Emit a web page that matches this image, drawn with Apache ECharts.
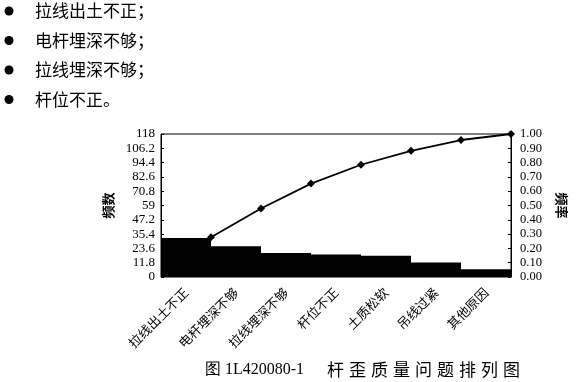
<!DOCTYPE html>
<html><head><meta charset="utf-8">
<script src="https://cdn.jsdelivr.net/npm/echarts@6/dist/echarts.min.js"></script>
<style>
html,body{margin:0;padding:0;background:#fff;}
#c{width:576px;height:382px;}
</style></head>
<body><div id="c"></div>
<script>
const bulletLines = ['拉线出土不正；', '电杆埋深不够；', '拉线埋深不够；', '杆位不正。'];
const categories = ['拉线出土不正', '电杆埋深不够', '拉线埋深不够', '杆位不正', '土质松软', '吊线过紧', '其他原因'];
const frequency = [32.2, 25.4, 19.9, 18.6, 17.5, 11.9, 6.3];
const cumulative = [0.278, 0.479, 0.653, 0.785, 0.882, 0.958, 1.00];
const captionNumber = '图 1L420080-1';
const captionTitle = '杆歪质量问题排列图';

const chart = echarts.init(document.getElementById('c'));
const serif = '"Liberation Serif", "DejaVu Serif", serif';
const cjk = '"Noto Sans CJK SC", sans-serif';

const graphics = [];
bulletLines.forEach((t, i) => {
  const y = 11 + i * 29.5;
  graphics.push({type: 'circle', shape: {cx: 9, cy: y, r: 4.5}, style: {fill: '#000'}});
  graphics.push({type: 'text', x: 35, y: y, style: {text: t, font: '17px ' + cjk, fill: '#000', verticalAlign: 'middle'}});
});
graphics.push({type: 'text', x: 205, y: 370, style: {text: captionNumber, font: '16px ' + serif, fill: '#000', verticalAlign: 'middle'}});
captionTitle.split('').forEach((ch, i) => {
  graphics.push({type: 'text', x: 327 + i * 22, y: 370, style: {text: ch, font: '17px ' + cjk, fill: '#000', verticalAlign: 'middle'}});
});

chart.setOption({
  animation: false,
  grid: {left: 161, right: 57, top: 134, bottom: 105, show: true, borderColor: '#000', borderWidth: 1, backgroundColor: 'transparent'},
  graphic: graphics,
  xAxis: [
    {type: 'category', data: categories, axisLine: {show: false}, axisTick: {show: false},
     axisLabel: {rotate: 45, interval: 0, fontFamily: cjk, fontSize: 13, color: '#000', margin: 13}},
    {type: 'value', min: 0, max: 7, show: false}
  ],
  yAxis: [
    {type: 'value', min: 0, max: 118, interval: 11.8, splitLine: {show: false},
     axisLine: {show: true, lineStyle: {color: '#000'}}, axisTick: {show: true, inside: true, length: 3, lineStyle: {color: '#000'}},
     axisLabel: {fontFamily: serif, fontSize: 13, color: '#000', margin: 6, formatter: v => String(+v.toFixed(1))},
     name: '频数', nameLocation: 'middle', nameGap: 45, nameRotate: 90,
     nameTextStyle: {fontFamily: cjk, fontSize: 13, color: '#000', fontWeight: 'bold'}},
    {type: 'value', min: 0, max: 1, interval: 0.1, splitLine: {show: false}, position: 'right',
     axisLine: {show: true, lineStyle: {color: '#000'}}, axisTick: {show: true, inside: true, length: 3, lineStyle: {color: '#000'}},
     axisLabel: {fontFamily: serif, fontSize: 12.5, color: '#000', margin: 9, formatter: v => v.toFixed(2)},
     name: '频率', nameLocation: 'middle', nameGap: 44, nameRotate: -90,
     nameTextStyle: {fontFamily: cjk, fontSize: 13, color: '#000', fontWeight: 'bold'}}
  ],
  series: [
    {type: 'bar', data: frequency, xAxisIndex: 0, yAxisIndex: 0, barCategoryGap: '0%',
     itemStyle: {color: '#000'}},
    {type: 'line', xAxisIndex: 1, yAxisIndex: 1, data: cumulative.map((v, i) => [i + 1, v]),
     symbol: 'diamond', symbolSize: 8, lineStyle: {color: '#000', width: 1.8}, itemStyle: {color: '#000'}, z: 5}
  ]
});
</script></body></html>
